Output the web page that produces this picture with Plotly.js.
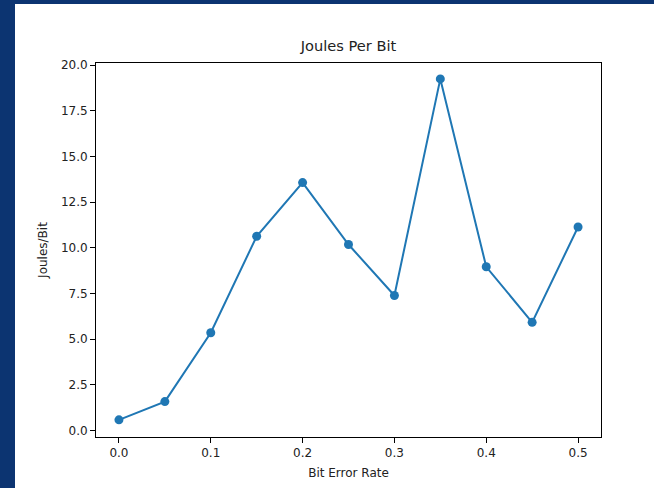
<!DOCTYPE html>
<html>
<head>
<meta charset="utf-8">
<script src="https://cdn.plot.ly/plotly-3.0.1.min.js"></script>
<style>
  html, body { margin: 0; padding: 0; background: #0c3471; width: 654px; height: 488px; overflow: hidden; }
  #chart { position: absolute; left: 15px; top: 4px; width: 639px; height: 484px; background: #ffffff; }
</style>
</head>
<body>
<div id="chart"></div>
<script>
const bitErrorRate = [0.0, 0.05, 0.1, 0.15, 0.2, 0.25, 0.3, 0.35, 0.4, 0.45, 0.5];
const joulesPerBit = [0.58, 1.58, 5.35, 10.63, 13.57, 10.18, 7.39, 19.25, 8.96, 5.92, 11.14];

const trace = {
  x: bitErrorRate,
  y: joulesPerBit,
  type: 'scatter',
  mode: 'lines+markers',
  line: { color: '#1f77b4', width: 2 },
  marker: { color: '#1f77b4', size: 9 },
  hoverinfo: 'none'
};

const axisCommon = {
  showline: true, mirror: true, linecolor: '#000000', linewidth: 1,
  ticks: 'outside', ticklen: 5, tickwidth: 1, tickcolor: '#000000',
  showgrid: false, zeroline: false,
  tickfont: { family: 'DejaVu Sans', size: 12, color: '#222222' }
};

const layout = {
  width: 639, height: 484,
  margin: { l: 81, r: 53, t: 59, b: 51 },
  paper_bgcolor: '#ffffff', plot_bgcolor: '#ffffff',
  showlegend: false,
  title: {
    text: 'Joules Per Bit',
    font: { family: 'DejaVu Sans', size: 14.6, color: '#222222' },
    x: 0.5, xref: 'paper', xanchor: 'center',
    y: 1 - 42 / 484, yref: 'container', yanchor: 'middle'
  },
  xaxis: Object.assign({}, axisCommon, {
    range: [-0.025, 0.525],
    tickmode: 'linear', tick0: 0, dtick: 0.1, tickformat: '.1f',
    title: { text: 'Bit Error Rate', font: { family: 'DejaVu Sans', size: 12, color: '#222222' }, standoff: 9 }
  }),
  yaxis: Object.assign({}, axisCommon, {
    range: [-0.36, 20.12],
    tickmode: 'linear', tick0: 0, dtick: 2.5, tickformat: '.1f',
    title: { text: 'Joules/Bit', font: { family: 'DejaVu Sans', size: 12, color: '#222222' }, standoff: 10 }
  })
};

Plotly.newPlot('chart', [trace], layout, { displayModeBar: false, staticPlot: true });
</script>
</body>
</html>
